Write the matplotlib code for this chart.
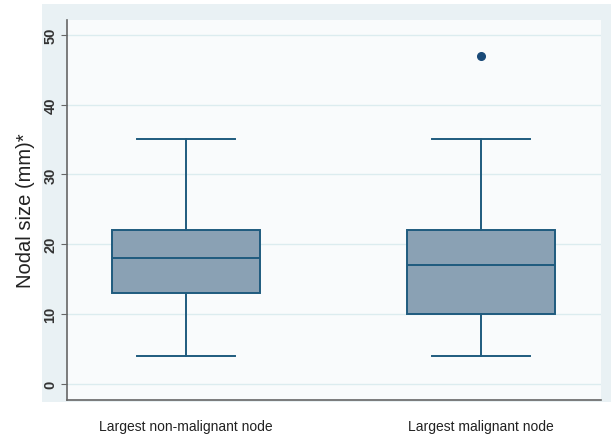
import matplotlib
matplotlib.use("Agg")
import matplotlib.pyplot as plt
from matplotlib.patches import Rectangle

plt.rcParams["font.family"] = ["Liberation Sans", "DejaVu Sans"]

categories = ["Largest non-malignant node", "Largest malignant node"]
mins = [4, 4]
q1s = [13, 10]
medians = [18, 17]
q3s = [22, 22]
maxs = [35, 35]
outliers = [[], [47]]
yticks = [0, 10, 20, 30, 40, 50]

W, H = 611, 439
fig = plt.figure(figsize=(W / 100, H / 100), dpi=100)
fig.patch.set_facecolor("white")

# outer light panel
fig.patches.append(Rectangle((42 / W, 1 - 403 / H), 1 - 42 / W, (403 - 5) / H,
                             transform=fig.transFigure, facecolor="#e9f1f4",
                             edgecolor="none", zorder=-10))

ax = fig.add_axes([67 / W, 1 - 401 / H, (601 - 67) / W, (401 - 21) / H])
ax.set_zorder(5)
ax.set_facecolor("#f9fbfc")

stats = []
for i in range(len(categories)):
    stats.append(dict(whislo=mins[i], q1=q1s[i], med=medians[i], q3=q3s[i],
                      whishi=maxs[i], fliers=outliers[i], label=categories[i]))

edge = "#1f5b7e"
ax.bxp(stats, positions=[1, 2], widths=0.5, patch_artist=True,
       boxprops=dict(facecolor="#8aa1b4", edgecolor=edge, linewidth=1.4),
       medianprops=dict(color=edge, linewidth=1.4),
       whiskerprops=dict(color=edge, linewidth=1.4),
       capprops=dict(color=edge, linewidth=1.4),
       capwidths=0.33,
       flierprops=dict(marker="o", markersize=5.5, markerfacecolor="#1a4a78",
                       markeredgecolor="#1a4a78"))

ax.set_xlim(0.597, 2.407)
ax.set_ylim(-2.3, 52.1)
ax.set_yticks(yticks)
ax.set_yticklabels([str(t) for t in yticks], rotation=90, va="center",
                   fontsize=10.5, color="#333333", fontweight="bold")
ax.yaxis.grid(True, color="#dcecef", linewidth=1)
ax.set_axisbelow(True)
ax.tick_params(axis="y", length=4, color="#666666", pad=3)
ax.tick_params(axis="x", length=0, pad=14, labelsize=10, labelcolor="#222222")
ax.set_ylabel("Nodal size (mm)*", fontsize=14.5, color="#222222", labelpad=6)

for s in ["top", "right"]:
    ax.spines[s].set_visible(False)
for s in ["left", "bottom"]:
    ax.spines[s].set_color("#666666")
    ax.spines[s].set_linewidth(1.2)

fig.savefig("out.png", dpi=100)
